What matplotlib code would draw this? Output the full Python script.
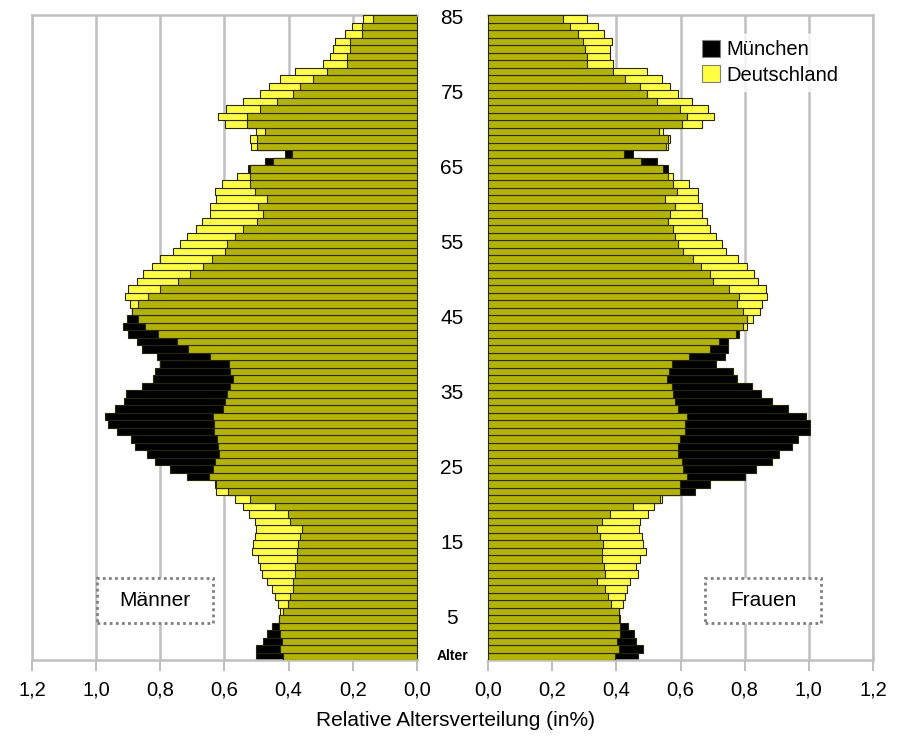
import numpy as np
import matplotlib
matplotlib.use("Agg")
import matplotlib.pyplot as plt
from matplotlib.patches import Rectangle, Patch
from matplotlib.transforms import blended_transform_factory

plt.rcParams['font.family'] = ['Liberation Sans', 'DejaVu Sans']

ages = np.arange(0, 86)

# values listed from age 0 to age 85
men_muenchen = [0.502, 0.502, 0.479, 0.469, 0.453, 0.430, 0.417, 0.401, 0.396, 0.386,
                0.386, 0.380, 0.380, 0.375, 0.375, 0.370, 0.365, 0.359, 0.396, 0.401,
                0.443, 0.521, 0.588, 0.625, 0.718, 0.770, 0.817, 0.843, 0.879, 0.892,
                0.936, 0.962, 0.973, 0.941, 0.913, 0.907, 0.858, 0.824, 0.817, 0.801,
                0.811, 0.858, 0.874, 0.900, 0.917, 0.905, 0.889, 0.869, 0.838, 0.801,
                0.744, 0.706, 0.668, 0.640, 0.598, 0.593, 0.567, 0.541, 0.500, 0.479,
                0.495, 0.469, 0.505, 0.521, 0.521, 0.526, 0.474, 0.411, 0.500, 0.500,
                0.474, 0.531, 0.531, 0.489, 0.437, 0.386, 0.365, 0.323, 0.281, 0.219,
                0.219, 0.209, 0.209, 0.172, 0.172, 0.137]
men_deutschland = [0.417, 0.427, 0.422, 0.427, 0.429, 0.430, 0.427, 0.432, 0.443, 0.453,
                   0.469, 0.484, 0.489, 0.497, 0.515, 0.510, 0.505, 0.502, 0.505, 0.523,
                   0.541, 0.567, 0.627, 0.630, 0.647, 0.637, 0.630, 0.616, 0.619, 0.624,
                   0.633, 0.633, 0.635, 0.606, 0.598, 0.593, 0.583, 0.573, 0.583, 0.585,
                   0.645, 0.713, 0.749, 0.806, 0.848, 0.869, 0.889, 0.895, 0.910, 0.902,
                   0.872, 0.853, 0.827, 0.801, 0.760, 0.739, 0.716, 0.689, 0.671, 0.645,
                   0.645, 0.627, 0.630, 0.609, 0.560, 0.520, 0.448, 0.390, 0.518, 0.521,
                   0.502, 0.598, 0.619, 0.595, 0.541, 0.489, 0.460, 0.427, 0.380, 0.292,
                   0.271, 0.261, 0.256, 0.224, 0.204, 0.168]
women_muenchen = [0.467, 0.482, 0.461, 0.455, 0.437, 0.412, 0.409, 0.382, 0.375, 0.365,
                  0.341, 0.365, 0.362, 0.354, 0.354, 0.357, 0.349, 0.339, 0.354, 0.380,
                  0.453, 0.535, 0.645, 0.692, 0.801, 0.835, 0.884, 0.908, 0.947, 0.967,
                  1.004, 1.004, 0.991, 0.936, 0.884, 0.850, 0.822, 0.775, 0.765, 0.711,
                  0.739, 0.749, 0.749, 0.783, 0.796, 0.806, 0.796, 0.775, 0.783, 0.752,
                  0.702, 0.692, 0.663, 0.640, 0.609, 0.591, 0.583, 0.578, 0.562, 0.567,
                  0.583, 0.552, 0.588, 0.578, 0.562, 0.562, 0.526, 0.453, 0.555, 0.560,
                  0.534, 0.604, 0.621, 0.599, 0.526, 0.495, 0.474, 0.427, 0.391, 0.308,
                  0.308, 0.302, 0.297, 0.282, 0.256, 0.235]
women_deutschland = [0.395, 0.407, 0.403, 0.411, 0.411, 0.409, 0.409, 0.422, 0.427, 0.432,
                     0.443, 0.466, 0.461, 0.474, 0.493, 0.482, 0.479, 0.472, 0.474, 0.500,
                     0.517, 0.541, 0.599, 0.599, 0.619, 0.609, 0.604, 0.593, 0.593, 0.599,
                     0.614, 0.614, 0.619, 0.591, 0.583, 0.578, 0.573, 0.557, 0.565, 0.573,
                     0.628, 0.692, 0.721, 0.773, 0.806, 0.827, 0.848, 0.853, 0.869, 0.867,
                     0.843, 0.829, 0.808, 0.780, 0.742, 0.728, 0.711, 0.692, 0.684, 0.666,
                     0.666, 0.653, 0.656, 0.628, 0.576, 0.544, 0.476, 0.424, 0.562, 0.567,
                     0.547, 0.666, 0.704, 0.687, 0.637, 0.591, 0.567, 0.541, 0.495, 0.391,
                     0.380, 0.380, 0.388, 0.362, 0.344, 0.310]

xticks = [0.0, 0.2, 0.4, 0.6, 0.8, 1.0, 1.2]
xtick_labels = ['0,0', '0,2', '0,4', '0,6', '0,8', '1,0', '1,2']
age_label_pos = [85, 75, 65, 55, 45, 35, 25, 15, 5, 0]
age_label_txt = ['85', '75', '65', '55', '45', '35', '25', '15', '5', 'Alter']
series_names = ['München', 'Deutschland']
panel_names = ['Männer', 'Frauen']
xlabel = 'Relative Altersverteilung (in%)'

BLACK = '#000000'
YELLOW = '#ffff40'
OLIVE = '#b4b400'
EDGE = '#262600'
GRID = '#c0c0c0'

W, H = 900, 740
fig = plt.figure(figsize=(W / 100, H / 100), dpi=100)


def fx(px):
    return px / W


def fy(py):
    return 1 - py / H


axL = fig.add_axes([fx(32), fy(660), fx(385), 645 / H])
axR = fig.add_axes([fx(488), fy(660), fx(385), 645 / H])

for ax, m, d in [(axL, men_muenchen, men_deutschland), (axR, women_muenchen, women_deutschland)]:
    m = np.array(m)
    d = np.array(d)
    ax.barh(ages, m, height=1.0, color=BLACK, edgecolor=EDGE, linewidth=0.8, zorder=2)
    ax.barh(ages, d, height=1.0, color=YELLOW, edgecolor=EDGE, linewidth=0.8, zorder=3)
    ax.barh(ages, np.minimum(m, d), height=1.0, color=OLIVE, edgecolor=EDGE, linewidth=0.8, zorder=4)
    ax.set_ylim(-0.5, 85.5)
    ax.set_yticks([])
    ax.set_xticks(xticks)
    ax.set_xticklabels(xtick_labels, fontsize=14.5)
    ax.tick_params(axis='x', direction='out', length=8, width=1.5, color=GRID, pad=7)
    for x in xticks[1:]:
        ax.axvline(x, color=GRID, linewidth=1.8, zorder=1)
    for s in ax.spines.values():
        s.set_color(GRID)
        s.set_linewidth(1.8)

axL.set_xlim(1.2, 0.0)
axR.set_xlim(0.0, 1.2)
axL.spines['right'].set_color(EDGE)
axL.spines['right'].set_linewidth(0.8)
axR.spines['left'].set_color(EDGE)
axR.spines['left'].set_linewidth(0.8)

# age labels in the gap between panels
tr = blended_transform_factory(fig.transFigure, axL.transData)
for pos, txt in zip(age_label_pos, age_label_txt):
    if txt == 'Alter':
        fig.text(fx(453), pos, txt, transform=tr, ha='center', va='center',
                 fontsize=10, fontweight='bold')
    else:
        fig.text(fx(452), pos, txt, transform=tr, ha='center', va='center', fontsize=15)

# legend
handles = [Patch(facecolor=BLACK, edgecolor='#808080', linewidth=0.8),
           Patch(facecolor=YELLOW, edgecolor='#808080', linewidth=0.8)]
leg = axR.legend(handles, series_names, loc='upper left', bbox_to_anchor=(fx(686), fy(24)),
                 bbox_transform=fig.transFigure, fontsize=14.5, frameon=True,
                 handlelength=0.9, handleheight=0.9, handletextpad=0.3, labelspacing=0.3,
                 borderpad=0.3, fancybox=False)
leg.get_frame().set_facecolor('white')
leg.get_frame().set_edgecolor('white')
leg.set_zorder(10)

# panel name boxes
for (x0, x1), name in zip([(97, 213), (705, 821)], panel_names):
    rect = Rectangle((fx(x0), fy(623)), fx(x1 - x0), (623 - 578) / H, transform=fig.transFigure,
                     facecolor='white', edgecolor='#7f7f7f', linestyle=(0, (1, 1.2)),
                     linewidth=2.0, zorder=5)
    fig.add_artist(rect)
    fig.text(fx((x0 + x1) / 2), fy(601), name, ha='center', va='center', fontsize=15, zorder=6)

fig.text(fx(455), fy(721), xlabel, ha='center', va='center', fontsize=15)

fig.savefig('out.png', dpi=100)
